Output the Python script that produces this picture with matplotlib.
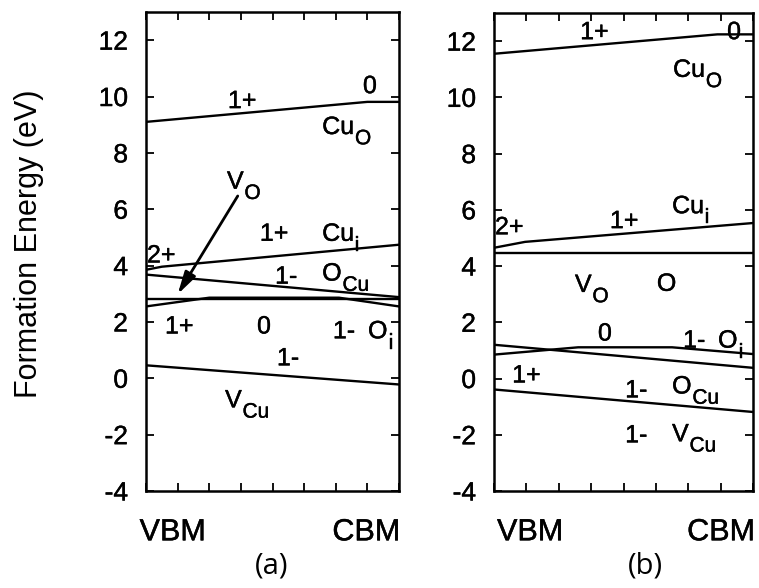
import numpy as np
import matplotlib
matplotlib.use("Agg")
import matplotlib.pyplot as plt
import matplotlib.patheffects as pe

plt.rcParams["font.family"] = ["Liberation Sans", "DejaVu Sans"]
plt.rcParams["axes.unicode_minus"] = False

# Fermi level across the gap (eV above VBM) and formation energies (eV)
# ---- panel (a) ----
a_cuo_x = [0.0, 0.70, 0.80]
a_cuo_y = [9.10, 9.81, 9.81]
a_cui_x = [0.0, 0.05, 0.80]
a_cui_y = [3.85, 3.96, 4.74]
a_ocu_x = [0.0, 0.80]
a_ocu_y = [3.68, 2.88]
a_vo_x = [0.0, 0.80]
a_vo_y = [2.80, 2.80]
a_oi_x = [0.0, 0.20, 0.61, 0.80]
a_oi_y = [2.55, 2.86, 2.86, 2.55]
a_vcu_x = [0.0, 0.80]
a_vcu_y = [0.46, -0.22]

# ---- panel (b) ----
b_cuo_x = [0.0, 0.69, 0.80]
b_cuo_y = [11.55, 12.24, 12.24]
b_cui_x = [0.0, 0.096, 0.80]
b_cui_y = [4.65, 4.86, 5.53]
b_vo_x = [0.0, 0.80]
b_vo_y = [4.47, 4.47]
b_oi_x = [0.0, 0.26, 0.55, 0.80]
b_oi_y = [0.85, 1.11, 1.11, 0.87]
b_ocu_x = [0.0, 0.80]
b_ocu_y = [1.20, 0.38]
b_vcu_x = [0.0, 0.80]
b_vcu_y = [-0.39, -1.19]

# charge-state labels: text, x, baseline y
a_charges = [
    ("1+", 0.259, 9.59), ("0", 0.686, 10.12),
    ("1+", 0.360, 4.88), ("2+", 0.003, 4.11), ("1-", 0.408, 3.36),
    ("1+", 0.060, 1.59), ("0", 0.351, 1.59), ("1-", 0.591, 1.42),
    ("1-", 0.414, 0.46),
]
b_charges = [
    ("1+", 0.266, 12.07), ("0", 0.720, 12.07),
    ("2+", 0.003, 5.13), ("1+", 0.358, 5.35),
    ("O", 0.503, 3.12),
    ("0", 0.321, 1.35), ("1-", 0.584, 1.10),
    ("1+", 0.056, -0.14), ("1-", 0.405, -0.67), ("1-", 0.405, -2.27),
]
# defect names: symbol, subscript, x, baseline y
a_defects = [
    ("Cu", "O", 0.557, 8.67), ("V", "O", 0.256, 6.73), ("Cu", "i", 0.557, 4.88),
    ("O", "Cu", 0.557, 3.47), ("O", "i", 0.702, 1.42), ("V", "Cu", 0.250, -1.03),
]
b_defects = [
    ("Cu", "O", 0.553, 10.73), ("Cu", "i", 0.550, 5.88), ("V", "O", 0.250, 3.08),
    ("O", "i", 0.692, 1.10), ("O", "Cu", 0.550, -0.53), ("V", "Cu", 0.550, -2.23),
]

y_ticks = [-4, -2, 0, 2, 4, 6, 8, 10, 12]
x_ticks = np.arange(0.0, 0.81, 0.1)

fig = plt.figure(figsize=(7.59, 5.88), dpi=100)
ax_a = fig.add_axes([0.1924, 0.165, 0.3333, 0.8146])
ax_b = fig.add_axes([0.6509, 0.165, 0.3412, 0.8129])

LW = 1.7
TXT = 18
SUB = 15
HEAVY = [pe.withStroke(linewidth=0.3, foreground="black")]


def style_axis(ax, vbm_pos, cbm_pos, tag, tag_x):
    ax.set_xlim(0, 0.8)
    ax.set_ylim(-4, 13)
    ax.set_xticks(x_ticks)
    ax.set_xticklabels([])
    ax.set_yticks(y_ticks)
    ax.set_yticklabels([str(t) for t in y_ticks])
    ax.tick_params(direction="in", top=True, right=True, length=6, width=1.3,
                   labelsize=19, pad=13)
    for lab in ax.get_yticklabels():
        lab.set_path_effects(HEAVY)
    for sp in ax.spines.values():
        sp.set_linewidth(1.8)
    for txt, pos in (("VBM", vbm_pos), ("CBM", cbm_pos)):
        ax.text(pos, -0.055, txt, transform=ax.transAxes, ha="center",
                va="top", fontsize=22, path_effects=HEAVY)
    fig.text(tag_x, 0.037, tag, ha="center", va="center", fontsize=21,
             family=["Open Sans", "DejaVu Sans"])


def defect_label(ax, sym, sub, x, y):
    main = ax.text(x, y, sym, fontsize=TXT, ha="left", va="baseline",
                   path_effects=HEAVY)
    ax.annotate(sub, xy=(1, 0), xycoords=main, xytext=(0.6, -3.8),
                textcoords="offset points", fontsize=SUB, ha="left",
                va="baseline", path_effects=HEAVY)


for x, y in [(a_cuo_x, a_cuo_y), (a_cui_x, a_cui_y), (a_ocu_x, a_ocu_y),
             (a_vo_x, a_vo_y), (a_oi_x, a_oi_y), (a_vcu_x, a_vcu_y)]:
    ax_a.plot(x, y, color="black", lw=LW, solid_joinstyle="miter")
for x, y in [(b_cuo_x, b_cuo_y), (b_cui_x, b_cui_y), (b_vo_x, b_vo_y),
             (b_oi_x, b_oi_y), (b_ocu_x, b_ocu_y), (b_vcu_x, b_vcu_y)]:
    ax_b.plot(x, y, color="black", lw=LW, solid_joinstyle="miter")

for ax, charges, defects in ((ax_a, a_charges, a_defects),
                             (ax_b, b_charges, b_defects)):
    for txt, x, y in charges:
        ax.text(x, y, txt, fontsize=TXT, ha="left", va="baseline",
                path_effects=HEAVY)
    for sym, sub, x, y in defects:
        defect_label(ax, sym, sub, x, y)

# arrow from the V_O label down to its level
ax_a.annotate("", xy=(0.10, 2.98), xytext=(0.29, 6.47),
              arrowprops=dict(arrowstyle="-|>,head_length=0.75,head_width=0.2",
                              lw=2.0, color="black", mutation_scale=18,
                              shrinkA=0, shrinkB=0))

style_axis(ax_a, 0.105, 0.87, "(a)", 272 / 759)
style_axis(ax_b, 0.139, 0.876, "(b)", 645 / 759)

fig.text(0.038, 0.585, "Formation Energy (eV)", rotation=90, ha="center",
         va="center", fontsize=22)

fig.savefig("out.png", dpi=100)
